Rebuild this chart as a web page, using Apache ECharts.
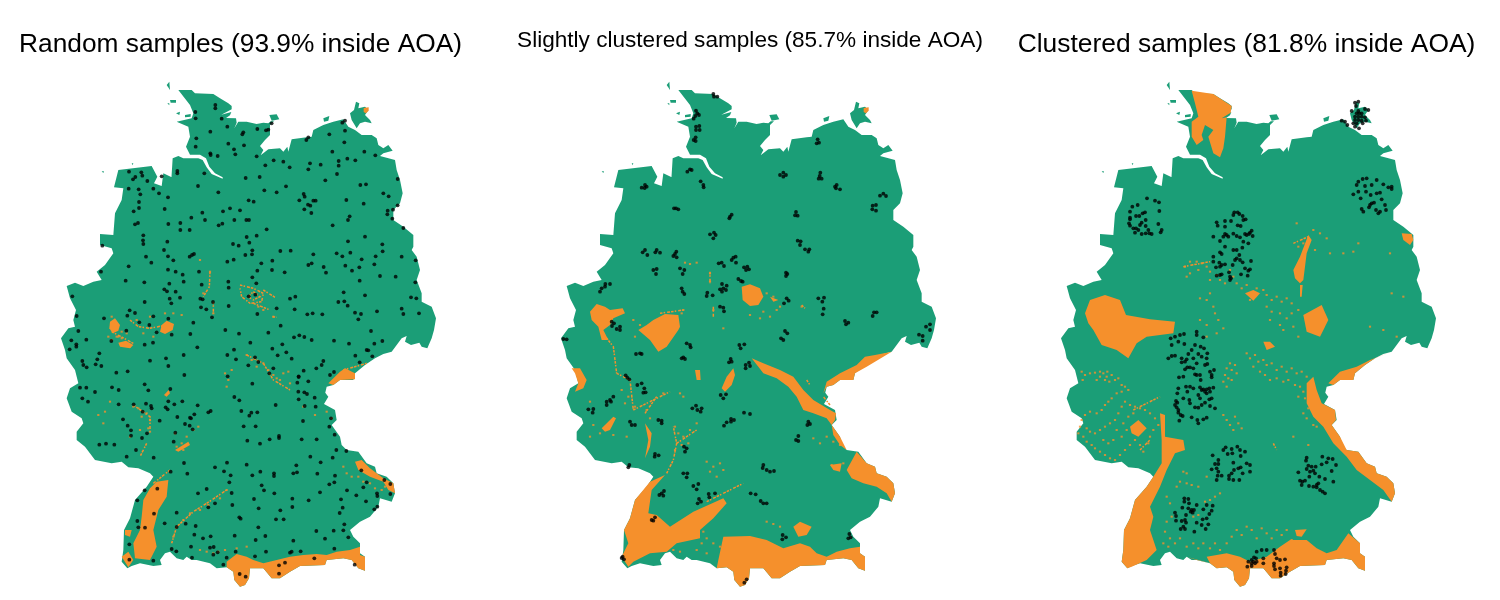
<!DOCTYPE html>
<html><head><meta charset="utf-8">
<style>html,body{margin:0;padding:0;background:#fff}#c{width:1500px;height:600px}</style>
<script src="https://cdn.jsdelivr.net/npm/echarts@6/dist/echarts.min.js"></script>
</head><body><div id="c"></div>
<script>
// Map units: three map units = one picture pixel. "Up" lists use y as read, "Low" lists are offset by 750.
const titles = ["Random samples (93.9% inside AOA)","Slightly clustered samples (85.7% inside AOA)","Clustered samples (81.8% inside AOA)"];

const landEastUp=[385,30,425,30,435,40,490,42,510,55,535,70,545,78,545,88,514,104,544,96,540,106,528,114,558,115,560,128,553,145,565,125,590,125,620,132,640,128,655,130,662,124,672,124,660,135,660,165,645,180,630,198,640,210,632,226,655,208,690,205,700,215,712,200,715,215,725,178,770,172,785,170,790,150,820,135,850,125,880,118,895,140,915,150,935,165,965,165,980,175,985,195,1000,205,1015,195,1028,212,1000,220,990,228,1035,240,1040,270,1050,300,1058,340,1050,370,1030,390,1030,420,1060,440,1090,465,1090,500,1085,510,1100,530,1110,570,1100,600,1115,640,1115,665,1145,680,1158,715,1152,750];
const landLow=[1145,25,1132,55,1115,50,1108,38,1083,45,1065,35,1070,18,1055,25,1025,65,1000,72,975,85,945,105,915,130,910,150,870,150,850,165,830,170,825,192,800,175,812,170,835,200,822,222,855,240,860,270,845,285,870,320,875,345,890,360,925,365,950,400,975,410,980,430,1010,440,1030,460,1035,490,1025,515,990,505,985,530,960,560,930,575,900,600,910,620,930,640,930,670,945,680,945,722,925,715,905,690,880,685,830,690,825,705,750,708,720,725,690,745,665,745,640,715,600,715,597,745,585,765,570,770,553,750,550,725,530,712,500,715,480,700,440,690,425,690,410,680,400,690,380,685,360,665,345,670,330,690,335,705,310,708,270,700,245,708,232,715,215,695,220,660,222,600,240,565,255,510,290,470,310,440,300,430,265,415,235,412,215,395,185,400,135,390,105,350,80,330,80,305,100,280,95,265,65,245,50,205,60,175,85,160,75,120,50,85,45,60,33,25];
const landWestUp=[55,745,75,740,70,720,78,690,60,655,50,618,75,608,100,618,130,605,155,600,140,575,165,555,190,520,185,505,150,495,150,462,190,465,195,400,215,360,220,325,192,322,205,270,305,258,322,290,312,310,335,318,340,280,365,292,362,330,368,235,385,228,400,235,445,235,458,240,470,262,485,282,518,296,518,292,495,280,478,260,468,235,450,224,420,224,408,200,420,170,415,140,380,125,425,115,430,100,420,75];
const islands=[[900,100,912,90,918,65,928,70,925,85,945,80,955,90,945,105,960,120,965,130,945,125,930,130,920,145,905,120],[658,105,680,103,688,118,665,122],[820,115,838,108,835,122,822,125],[360,60,378,60,378,68,362,68],[378,100,390,95,388,105],[405,105,422,102,422,110,405,112],[350,15,358,5,360,30],[352,70,358,70,358,76],[155,274,162,274,160,279],[245,250,250,250,248,256]];

// Orange area outlines per panel
const orangeUp1=[[941,84,956,82,956,92,948,100,941,96],[180,725,195,715,210,735,205,752,188,760,178,745],[335,735,350,722,372,732,368,750,345,762,330,755]];
const orangeLow1=[[205,38,228,32,250,45,240,55,210,50],[835,160,870,125,885,115,915,130,915,148,870,150,850,165],[280,510,300,475,320,455,355,450,350,500,325,540,310,600,320,650,300,690,255,685,250,640,270,600,275,560],[225,600,245,600,240,620,225,615],[215,680,235,665,250,690,235,712],[530,695,560,672,590,680,610,690,640,700,680,690,720,680,760,675,800,672,830,675,860,665,900,660,930,650,930,675,945,680,945,722,925,715,905,690,880,685,830,690,825,705,750,708,720,725,690,745,665,745,640,715,600,715,597,745,585,765,570,770,553,750,550,725,530,712],[915,395,935,390,960,415,1000,445,1030,460,1035,490,1015,480,1000,455,960,440,925,420],[342,195,356,180,360,190,350,200],[375,360,415,335,420,345,385,365]];
const orangeUp2=[[575,620,600,613,630,625,640,650,625,675,600,678,578,660],[120,695,140,672,165,680,180,690,218,685,225,700,190,715,180,735,160,750,175,780,155,780,145,740,125,720],[265,750,290,735,310,720,345,702,385,705,390,740,385,750,350,800,325,815,300,780],[941,84,956,82,956,92,948,100,941,96],[660,650,685,660,670,665]];
const orangeLow2=[[605,85,640,100,690,120,730,140,760,180,790,210,840,240,858,250,855,270,845,285,830,265,790,250,760,240,740,200,715,170,680,145,640,130,625,110],[820,190,830,155,870,130,920,105,945,80,975,75,1025,65,1000,80,950,110,915,130,910,150,870,150,850,165,830,170],[845,285,870,320,890,360,870,345,850,315],[890,420,920,365,950,400,975,410,980,430,1010,440,1030,460,1035,490,1025,515,1010,490,980,470,940,460,905,445],[65,115,90,115,110,150,100,175,75,185,85,160,75,130],[515,175,530,140,550,115,555,135,545,165,525,185],[155,295,190,260,198,265,180,300,165,305],[285,280,305,310,300,350,285,385,295,330],[255,510,300,455,345,435,305,480,295,550,320,555,360,590,430,545,520,505,530,520,490,565,450,600,450,625,380,640,350,665,300,670,250,695,235,710,215,680,235,640,222,600,240,565],[505,690,520,620,600,618,650,630,700,655,750,640,780,650,800,670,830,680,860,665,900,655,930,650,930,670,945,680,945,722,925,715,905,690,880,685,830,690,825,705,750,708,720,725,690,745,665,745,640,715,600,715,597,745,585,765,570,770,553,750,550,725,530,712,500,715],[730,590,750,575,785,590,770,615,745,620],[435,120,450,120,452,150,440,150],[840,405,875,400,870,425,850,420]];
const orangeUp3=[[425,32,490,42,530,68,545,78,542,98,515,115,530,112,525,170,520,205,510,232,490,220,475,170,490,150,465,135,455,165,460,180,440,195,425,170,425,125,445,110,435,70],[105,700,120,660,165,645,210,660,228,705,300,718,375,725,370,760,290,770,260,790,235,835,200,810,155,795,130,750,115,730],[730,570,750,530,775,465,785,480,770,520,760,600,750,610,735,595],[750,615,758,615,755,650,750,650],[760,705,815,675,835,720,810,770,770,755],[1055,460,1085,462,1090,480,1080,495,1060,480],[585,640,610,630,630,640,610,662]];
const orangeLow3=[[330,250,345,255,345,320,400,330,405,360,375,370,350,420,330,470,300,530,310,560,300,600,320,660,290,690,245,710,232,715,215,695,220,660,222,600,240,565,255,510,290,470,310,440,335,400,335,330],[240,290,265,270,290,295,265,320,245,310],[770,160,790,140,800,180,815,220,855,240,858,270,845,285,870,320,890,360,925,365,950,400,975,410,980,430,1010,440,1030,460,1035,490,1025,515,1000,480,960,450,920,420,890,380,850,340,820,290,790,260,770,220],[835,160,870,125,920,110,960,90,1025,65,975,85,945,105,915,130,910,150,870,150,850,165],[640,35,660,35,675,50,650,60],[410,680,440,690,480,700,470,680,530,670,570,680,600,695,650,680,690,650,720,630,770,630,800,655,830,670,860,660,895,610,930,640,930,670,945,680,945,722,925,715,905,690,880,685,830,690,825,705,750,708,720,725,690,745,665,745,640,715,600,715,597,745,585,765,570,770,553,750,550,725,530,712,500,715,480,700],[735,600,770,598,755,620,740,618]];

// Thin orange threads
const streakUp1=[[570,615,610,625,640,640,635,665,600,670,575,650,570,625],[610,635,630,650,610,660,595,650,610,635],[640,630,675,652],[610,670,660,690],[240,720,265,740,300,745,350,735],[490,665,490,700],[668,710,680,712],[480,575,478,620,460,650]];
const streakLow1=[[185,5,250,40],[360,420,310,460],[365,640,380,590,430,545,470,520],[470,520,530,480],[250,225,300,260,300,300],[590,75,640,100,670,150,720,180],[290,340,270,380],[880,120,950,100]];
const streakUp2=[[480,575,480,610],[490,680,490,710],[755,675,765,685],[330,700,400,690]];
const streakLow2=[[350,430,370,390,380,340,370,290],[250,240,310,210,360,185],[285,250,320,200],[470,515,580,460],[200,130,240,150,250,240],[155,5,190,50,200,130],[380,340,440,300],[770,150,780,165],[840,225,820,200]];
const streakUp3=[[400,560,480,545],[730,490,775,470]];
const streakLow3=[[250,240,330,200],[670,340,680,360],[270,360,300,330]];

// Isolated orange cells in the speckled areas
const speckUp1=[185,710,175,770,200,770,230,760,260,720,280,760,300,710,310,770,345,700,370,700,395,705,215,775,450,540,480,575,460,640,490,700,640,690,670,710,625,680];
const speckLow1=[525,130,535,150,545,120,530,170,590,75,605,90,620,110,640,100,655,120,670,135,680,145,700,130,715,125,720,160,690,150,380,350,395,340,410,320,430,300,445,290,375,310,400,360,250,230,265,235,275,260,290,250,300,270,295,295,300,305,270,300,240,320,145,255,165,245,180,215,160,280,880,410,890,430,905,440,925,440,940,455,960,460,975,475,995,480,1005,470,760,230,795,255,830,245,845,265,450,660,470,665,490,670,505,665,525,660,590,650,560,655,370,620,380,590,400,570,420,550,450,540,475,525,510,505,530,480,185,30,205,20,225,40,240,50,215,5];
const speckUp2=[650,640,670,650,690,680,640,695,660,710,630,715,680,690,600,705,755,680,480,580,480,605,490,690,405,548,420,552,440,548,520,745,250,720,270,735,255,770,400,690,395,700];
const speckLow2=[375,290,385,310,400,320,420,300,440,280,395,345,415,340,375,360,470,395,490,410,510,400,480,425,500,440,520,420,790,325,810,340,830,320,850,335,870,345,880,400,845,405,460,605,470,625,490,640,455,640,470,670,440,660,370,660,390,665,510,650,215,180,235,200,225,220,255,230,290,240,300,265,120,320,150,310,190,315,230,320,130,285,120,215,650,575,670,582,690,590,340,190,390,190,400,200];
const speckUp3=[405,560,420,545,440,545,455,550,470,560,480,575,410,590,445,570,420,580,480,600,500,585,510,600,525,610,540,570,550,590,480,640,470,660,490,680,450,655,495,700,505,720,450,720,470,735,520,745,500,760,470,770,560,610,575,625,590,615,600,660,620,625,640,630,650,645,665,660,680,650,695,665,710,655,725,670,650,680,665,695,690,700,660,720,690,735,710,715,725,700,700,750,730,740,745,770,745,690,740,430,745,500,760,490,790,450,810,460,830,475,795,510,840,520,910,515,925,490,880,520,1020,520,1025,640,1060,650,960,740,1000,750,1040,770];
const speckLow3=[95,125,105,135,98,150,120,130,135,128,150,125,160,130,172,125,185,135,170,140,150,140,140,150,165,150,178,155,195,150,205,145,215,165,225,170,235,180,215,185,200,190,185,205,175,215,165,225,155,240,140,250,120,245,105,255,95,270,90,290,85,310,100,320,110,335,125,345,135,355,150,365,165,375,180,385,195,390,210,375,225,360,240,345,255,330,270,345,280,365,295,340,300,320,310,300,325,285,315,265,300,250,285,240,270,235,255,230,240,225,225,215,215,230,205,250,195,270,180,280,165,290,150,300,135,310,120,305,110,295,200,300,215,320,190,330,175,340,160,330,230,300,220,280,235,260,250,250,540,100,530,115,545,120,525,135,535,145,520,155,545,150,555,105,560,130,530,170,590,70,600,85,615,75,625,95,640,90,650,105,665,100,680,120,695,110,710,125,725,115,740,130,755,125,770,140,610,110,630,125,645,135,660,150,680,145,700,155,715,150,735,165,750,170,760,185,745,200,765,205,775,235,760,250,770,265,790,285,520,255,530,270,540,285,555,260,565,280,550,300,575,295,410,430,400,425,390,455,410,460,425,465,445,470,380,470,470,440,510,490,495,500,480,510,465,515,430,560,445,555,350,500,360,520,365,560,350,575,345,605,360,625,340,640,355,650,375,640,390,625,410,650,430,640,445,655,460,640,480,655,495,640,510,660,530,640,545,620,560,600,575,615,590,590,605,600,620,625,635,595,650,610,665,625,680,600,695,615,710,600,725,630,730,320,775,345,800,290];

// Sample points
const pts1Up=[496,75,496,85,436,96,437,115,515,116,665,130,532,140,481,155,622,147,648,151,655,149,580,157,577,163,885,122,877,128,885,152,838,163,439,175,535,191,582,196,552,208,437,200,883,187,775,172,769,180,847,215,943,215,976,226,481,220,482,225,503,228,556,223,620,229,671,241,700,245,646,256,719,262,780,250,812,254,866,243,892,236,916,241,866,257,775,268,861,282,237,275,274,277,382,273,382,280,463,280,335,289,277,287,256,291,249,298,292,303,587,294,629,291,826,301,1043,297,444,318,236,326,266,328,310,326,271,343,327,340,354,352,505,337,643,331,680,337,708,319,931,315,948,313,1000,340,1016,349,761,342,764,350,748,361,596,361,611,365,267,366,790,362,797,362,889,360,941,371,774,374,781,377,1043,376,267,384,344,387,251,394,540,385,519,394,570,391,457,398,763,388,784,399,1013,392,1029,389,1012,403,424,413,465,420,553,420,589,420,597,420,899,409,894,420,1027,416,264,429,255,433,355,432,391,429,517,431,506,436,848,436,391,450,419,450,650,448,1060,444,280,466,279,481,280,492,620,467,590,471,945,470,352,485,894,484,598,488,549,492,566,497,157,497,997,493,342,510,607,511,691,513,722,512,998,514,432,522,426,525,419,530,288,530,354,529,586,525,606,523,790,523,860,520,877,529,901,518,977,529,1055,530,935,538,370,541,551,539,532,545,304,548,667,542,634,550,785,550,775,555,1097,541,236,559,886,557,973,553,928,562,821,561,354,569,377,575,447,575,622,572,666,570,906,572,153,575,704,577,828,578,398,584,607,592,990,588,1037,590,227,602,283,607,401,605,535,605,358,611,619,610,455,614,929,602,536,623,1096,607,343,628,351,634,377,635,881,637,616,644,596,649,67,649,359,656,390,653,451,656,458,658,720,656,736,650,945,646,1083,652,1099,655,284,666,364,670,489,666,865,666,883,664,893,677,453,682,469,688,536,678,680,685,734,688,1055,686,239,691,255,699,772,703,788,700,817,703,915,698,933,702,981,694,1060,702,1107,700,80,708,232,707,310,709,162,715,355,716,486,712,622,702,925,718,268,727,430,728,298,735,692,737];
const pts1Low=[85,3,229,2,320,7,365,14,421,12,526,0,567,11,655,8,732,22,748,16,763,21,785,30,852,32,897,41,973,41,997,33,963,3,64,31,109,29,184,33,284,44,309,38,601,38,697,43,79,43,79,50,442,52,59,58,552,59,667,56,950,60,955,61,709,67,148,70,401,75,532,75,683,76,916,77,967,79,615,82,142,88,97,93,100,105,300,92,348,85,558,88,725,86,625,96,820,93,929,97,137,103,110,112,154,108,355,108,595,106,670,115,815,105,799,115,233,124,199,128,761,122,852,126,840,135,658,130,403,135,533,139,746,139,746,141,775,154,742,158,607,161,284,163,90,173,109,173,186,172,361,177,206,180,295,181,135,186,745,185,763,187,771,192,97,205,553,201,568,211,794,203,746,208,114,215,355,214,397,214,288,221,373,223,251,223,206,223,677,225,303,228,305,235,443,226,764,228,797,230,347,232,353,238,278,245,482,243,475,247,574,243,604,248,622,247,433,253,598,257,382,261,420,263,423,265,219,268,843,265,329,272,759,273,405,282,419,287,233,287,581,289,617,289,838,290,428,298,243,301,376,308,291,310,243,317,854,314,276,324,687,318,687,324,592,332,659,328,755,328,800,328,371,335,148,344,168,341,193,344,630,341,258,360,859,360,889,363,230,380,311,383,781,380,848,383,402,399,812,397,590,404,531,398,739,406,495,412,362,425,522,424,934,421,412,431,542,436,607,436,631,425,672,430,672,438,730,430,741,427,802,431,855,437,1003,450,538,457,853,457,838,463,950,457,1021,462,635,466,940,472,470,477,322,476,642,481,284,481,891,481,444,490,545,489,673,490,810,487,919,496,981,490,982,498,1021,492,262,511,612,507,727,506,776,511,873,508,948,514,495,520,547,525,475,532,626,535,727,531,878,533,982,530,973,538,691,541,380,548,312,551,869,549,568,562,572,566,678,568,701,568,262,573,344,580,407,581,883,583,437,588,265,592,285,593,380,591,625,592,799,603,851,602,880,601,433,614,554,617,646,618,459,625,482,619,895,622,825,626,617,630,730,632,238,643,423,650,480,653,491,651,365,657,853,656,379,664,503,667,557,665,648,665,720,668,725,665,752,664,615,679,490,674,530,683,426,683,793,685,238,689,310,692,705,698,520,704,687,706,914,704,569,732,587,740,687,731];
const pts2Up=[490,42,492,50,502,50,438,92,442,100,436,108,447,105,431,116,438,140,448,138,438,150,449,150,437,172,431,180,437,183,803,178,807,188,800,190,420,268,412,275,425,270,452,304,460,315,461,322,285,315,275,323,290,320,284,324,700,278,690,285,708,285,700,290,811,278,809,288,806,296,815,296,860,315,870,328,858,325,855,320,990,347,1000,341,1008,348,378,385,385,388,372,385,968,377,978,375,967,388,978,392,545,404,540,410,538,415,738,396,735,406,743,407,480,463,492,458,497,465,490,475,743,482,752,484,750,495,765,508,775,515,778,508,285,510,278,517,292,525,320,510,316,517,330,518,379,515,370,528,380,532,375,522,550,533,557,530,545,540,558,548,506,550,515,548,522,558,582,562,592,560,588,570,597,568,320,567,310,570,318,582,390,565,403,570,398,582,708,578,712,582,708,588,565,597,573,603,578,605,180,612,165,620,155,625,150,635,166,612,516,612,530,617,510,628,520,625,528,630,516,635,395,625,398,635,403,642,472,638,470,648,488,646,710,655,702,670,716,662,805,655,822,653,817,665,510,680,520,683,522,694,821,686,818,703,972,697,980,697,968,708,885,723,895,728,888,733,185,725,192,730,186,738,210,740,200,747,210,750];
const pts2Low=[40,27,50,28,705,3,712,10,693,25,700,30,410,40,420,45,422,52,568,45,583,43,572,55,1107,14,1118,18,1118,32,258,72,270,70,275,72,395,85,405,87,400,82,542,87,537,97,545,95,597,98,587,105,600,108,587,115,227,136,232,143,238,148,262,165,275,160,283,175,280,188,287,187,190,200,180,210,170,215,170,225,183,215,115,238,130,237,128,248,512,195,528,193,520,205,438,227,427,235,442,240,455,235,452,245,582,248,600,252,240,275,245,285,255,285,325,270,335,272,335,280,543,267,552,270,530,277,522,287,543,275,775,275,772,285,780,282,745,318,738,330,745,333,402,350,410,355,405,365,315,372,326,376,314,380,238,405,235,412,640,405,638,414,650,420,660,425,672,423,400,430,412,430,410,442,430,468,445,462,440,478,342,483,335,490,328,495,340,497,447,507,453,515,443,520,476,492,495,490,478,502,602,490,617,493,632,513,640,520,650,520,315,562,305,570,310,572,698,615,697,628,708,622,898,612,895,625,902,622,218,680,222,688,215,684,590,748,583,758,1140,-17,1128,-10,1140,0];
const pts3Up=[915,68,925,65,918,78,905,93,945,87,955,90,920,100,928,100,935,100,915,110,925,110,935,110,945,112,948,122,915,120,925,120,935,122,910,130,920,130,915,140,927,145,938,130,875,122,885,125,892,135,925,93,950,295,938,297,925,305,920,315,980,300,965,315,1000,313,1015,322,1025,320,1025,327,945,318,925,335,910,343,948,335,962,345,980,340,990,338,932,355,995,358,965,370,960,375,972,368,957,382,935,387,940,395,978,390,990,395,985,400,1005,375,1008,390,291,355,315,362,327,367,263,375,247,380,240,395,328,393,285,397,278,400,268,408,258,408,240,413,240,418,287,420,237,430,240,437,275,428,270,435,287,438,325,432,250,445,258,445,265,450,255,458,275,462,295,450,287,460,298,460,305,462,335,450,332,457,553,397,563,397,550,405,568,402,578,408,587,418,580,420,500,427,525,423,543,423,503,437,525,440,563,436,572,438,490,470,510,483,525,462,520,470,530,465,535,470,550,461,560,468,570,472,585,462,590,465,597,462,605,452,600,458,608,468,580,485,595,490,525,500,550,510,560,510,577,503,510,517,515,522,568,525,560,535,555,540,570,540,578,547,490,530,490,545,508,548,515,555,510,560,525,553,498,562,548,555,585,565,600,568,603,543,595,572,537,577,573,583,593,587,500,587,510,585,515,583,540,590,543,595,540,600];
const pts3Low=[362,25,375,20,390,15,402,12,440,5,440,15,460,22,365,45,385,35,403,42,435,45,452,50,462,55,425,60,472,70,445,72,415,72,375,77,365,78,355,85,395,85,410,88,430,85,455,80,470,85,405,95,395,97,465,105,472,102,440,100,412,112,420,112,430,115,405,118,492,120,480,125,485,135,485,142,435,133,440,135,387,142,400,140,450,135,452,150,420,170,408,170,430,175,412,185,385,175,382,190,450,172,455,180,460,178,465,185,470,178,478,175,490,173,480,185,445,195,450,205,470,190,400,205,418,210,420,220,378,213,382,218,375,225,380,232,385,240,385,248,392,255,398,258,388,272,425,262,442,270,445,280,460,268,470,263,435,232,445,233,455,225,465,218,480,228,485,205,478,208,495,235,527,352,520,360,545,357,562,350,570,360,585,365,533,372,547,370,572,378,488,376,505,390,495,402,505,402,590,400,600,405,550,398,485,418,500,415,505,425,552,420,565,415,572,412,600,425,578,430,545,430,537,437,537,447,550,450,568,450,503,437,515,437,500,450,770,383,768,392,817,380,835,385,848,387,830,397,815,403,858,405,775,407,785,410,797,410,770,417,780,425,790,422,795,430,745,427,778,440,808,440,845,423,750,452,757,455,765,452,755,465,777,468,790,470,800,465,805,460,825,447,850,455,800,472,810,480,818,485,825,490,403,505,415,507,403,515,417,520,440,525,397,533,415,535,425,540,432,540,428,548,422,545,460,538,470,525,488,527,485,542,478,552,375,548,378,558,408,555,470,565,458,568,378,572,395,573,405,570,408,578,440,578,455,585,475,583,400,590,392,597,405,597,467,597,433,605,620,665,635,660,650,660,672,660,612,682,618,685,605,690,595,695,605,700,610,695,620,695,640,685,592,710,605,708,615,700,640,700,675,672,680,685,690,690,705,688,672,700,672,708,675,718,690,715,710,712,708,722,692,728,692,737,707,732];

const GREEN="#1B9E77", ORANGE="#F5902C", LOWER=750;
const pairs=(a,dy=0)=>{const o=[];for(let i=0;i<a.length;i+=2)o.push([a[i],a[i+1]+dy]);return o;};
const land=[...pairs(landEastUp),...pairs(landLow,LOWER),...pairs(landWestUp)];
const panels=[
 {oU:orangeUp1,oL:orangeLow1,sU:streakUp1,sL:streakLow1,kU:speckUp1,kL:speckLow1,pU:pts1Up,pL:pts1Low},
 {oU:orangeUp2,oL:orangeLow2,sU:streakUp2,sL:streakLow2,kU:speckUp2,kL:speckLow2,pU:pts2Up,pL:pts2Low},
 {oU:orangeUp3,oL:orangeLow3,sU:streakUp3,sL:streakLow3,kU:speckUp3,kL:speckLow3,pU:pts3Up,pL:pts3Low}];
function shapeSeries(i,shapes,style,type){
  return {type:'custom',coordinateSystem:'cartesian2d',xAxisIndex:i,yAxisIndex:i,silent:true,clip:false,animation:false,
   encode:{x:0,y:1},
   data:shapes.map((s,k)=>[s[0][0],s[0][1],k]),
   renderItem:(p,api)=>{const s=shapes[api.value(2)];
     return {type,shape:{points:s.map(q=>api.coord(q))},style};}};
}
const series=[],grid=[],xAxis=[],yAxis=[],title=[];
const titleX=[235.5,745,1241.5],titleY=[26.5,24,26.5],titleS=[26.3,22.6,26.4];
panels.forEach((P,i)=>{
  grid.push({left:50+500*i,top:80,width:400,height:520});
  xAxis.push({gridIndex:i,type:'value',min:0,max:1200,show:false});
  yAxis.push({gridIndex:i,type:'value',min:0,max:1560,inverse:true,show:false});
  title.push({text:titles[i],left:titleX[i],top:titleY[i],textAlign:'center',textStyle:{fontFamily:'Liberation Sans',fontWeight:'normal',fontSize:titleS[i],color:'#000'}});
  series.push(shapeSeries(i,[land,...islands.map(a=>pairs(a))],{fill:GREEN},'polygon'));
  series.push(shapeSeries(i,[...P.oU.map(a=>pairs(a)),...P.oL.map(a=>pairs(a,LOWER))],{fill:ORANGE},'polygon'));
  series.push(shapeSeries(i,[...P.sU.map(a=>pairs(a)),...P.sL.map(a=>pairs(a,LOWER))],{fill:null,stroke:ORANGE,lineWidth:1.5,lineDash:[2.5,1.2,1.5,2,3,1]},'polyline'));
  series.push({type:'scatter',xAxisIndex:i,yAxisIndex:i,silent:true,animation:false,symbol:'rect',symbolSize:[2.2,2],itemStyle:{color:ORANGE},
     data:[...pairs(P.kU),...pairs(P.kL,LOWER)]});
  series.push({type:'scatter',xAxisIndex:i,yAxisIndex:i,silent:true,animation:false,symbol:'circle',symbolSize:3.8,itemStyle:{color:'#000'},
     data:[...pairs(P.pU),...pairs(P.pL,LOWER)]});
});
const chart=echarts.init(document.getElementById('c'),null,{renderer:'canvas'});
chart.setOption({animation:false,backgroundColor:'#fff',title,grid,xAxis,yAxis,series});
</script></body></html>
